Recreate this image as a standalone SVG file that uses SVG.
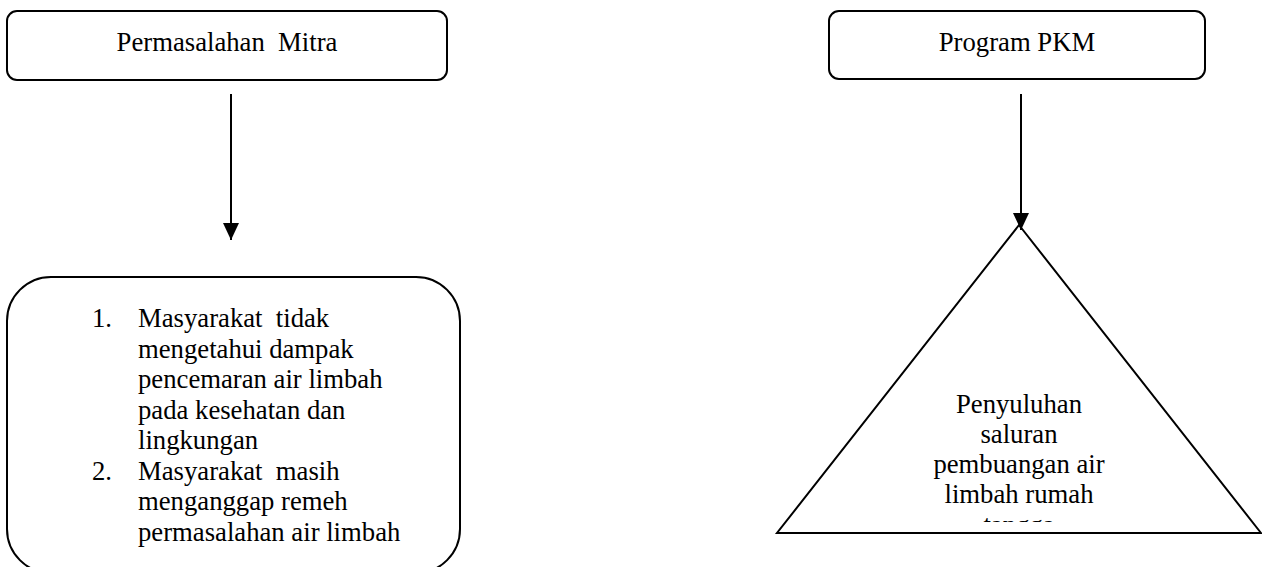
<svg xmlns="http://www.w3.org/2000/svg" width="1262" height="567" viewBox="0 0 1262 567">
  <style>
    .shape { fill: #ffffff; stroke: #000000; stroke-width: 2; }
    .txt { font-family: "Liberation Serif", "Times New Roman", serif; font-size: 26.7px; fill: #000000; }
    .mid { text-anchor: middle; }
    .link { stroke: #000000; stroke-width: 2; fill: none; }
  </style>
  <defs>
    <marker id="arrow" markerWidth="17" markerHeight="16" refX="17" refY="8" orient="auto" markerUnits="userSpaceOnUse" viewBox="0 0 17 16">
      <path d="M0,0 L17,8 L0,16 Z" fill="#000000"/>
    </marker>
    <clipPath id="triClip">
      <rect x="770" y="200" width="492" height="322"/>
    </clipPath>
  </defs>
  <rect width="1262" height="567" fill="#ffffff"/>

  <g id="node-permasalahan">
    <rect class="shape" x="7" y="11" width="440" height="69" rx="10" ry="10"/>
    <text class="txt mid" x="227" y="51" xml:space="preserve">Permasalahan  Mitra</text>
  </g>

  <g id="node-program">
    <rect class="shape" x="829" y="11" width="376" height="68" rx="10" ry="10"/>
    <text class="txt mid" x="1017" y="51">Program PKM</text>
  </g>

  <g id="node-daftar-masalah">
    <rect class="shape" x="7" y="277" width="453" height="296" rx="44" ry="44"/>
    <g class="txt">
      <text x="92" y="327">1.</text>
      <text x="138" y="327" xml:space="preserve">Masyarakat  tidak</text>
      <text x="138" y="357.5">mengetahui dampak</text>
      <text x="138" y="388">pencemaran air limbah</text>
      <text x="138" y="418.5">pada kesehatan dan</text>
      <text x="138" y="449">lingkungan</text>
      <text x="92" y="479.5">2.</text>
      <text x="138" y="479.5" xml:space="preserve">Masyarakat  masih</text>
      <text x="138" y="510">menganggap remeh</text>
      <text x="138" y="540.5">permasalahan air limbah</text>
    </g>
  </g>

  <g id="node-penyuluhan">
    <polygon class="shape" points="1019,225 777,533 1261,533"/>
    <!-- last line runs past the triangle's text area and is cut off -->
    <g class="txt mid" clip-path="url(#triClip)">
      <text x="1019" y="413">Penyuluhan</text>
      <text x="1019" y="443">saluran</text>
      <text x="1019" y="473">pembuangan air</text>
      <text x="1019" y="503">limbah rumah</text>
      <text x="1019" y="534">tangga</text>
    </g>
  </g>

  <g id="connectors">
    <path class="link" d="M231,94 L231,240" marker-end="url(#arrow)"/>
    <path class="link" d="M1021,94 L1021,230" marker-end="url(#arrow)"/>
  </g>
</svg>
